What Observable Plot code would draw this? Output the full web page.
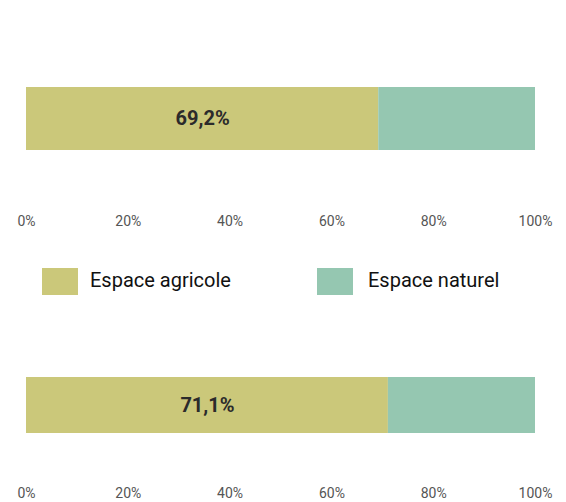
<!DOCTYPE html>
<html>
<head>
<meta charset="utf-8">
<script src="https://cdn.jsdelivr.net/npm/d3@7"></script>
<script src="https://cdn.jsdelivr.net/npm/@observablehq/plot@0.6"></script>
<style>
  html, body { margin: 0; padding: 0; background: #fff; }
  #wrap { width: 566px; font-family: Roboto, sans-serif; }
  .legend { position: relative; height: 70px; }
  .sw { position: absolute; top: 23px; width: 36px; height: 27px; }
  .lab { position: absolute; top: 22px; line-height: 27px; font-size: 20px; color: #111; }
</style>
</head>
<body>
<div id="wrap"></div>
<script>
const categories = ["Espace agricole", "Espace naturel"];
const colors = ["#cbc87a", "#95c7b1"];
const panels = ["haut", "bas"];
const agricole = [69.2, 71.1];
const naturel = [30.8, 28.9];
const ticks = [0, 20, 40, 60, 80, 100];

const fmt = v => String(v).replace(".", ",") + "%";

function panel(i, opts) {
  const data = [
    {cat: categories[0], value: agricole[i], panel: panels[i]},
    {cat: categories[1], value: naturel[i], panel: panels[i]}
  ];
  return Plot.plot({
    width: 566,
    height: opts.height,
    marginLeft: 26,
    marginRight: 31,
    marginTop: opts.marginTop,
    marginBottom: opts.marginBottom,
    style: {fontFamily: "Roboto, sans-serif", background: "#fff"},
    x: {domain: [0, 100]},
    y: {domain: [panels[i]], padding: 0, axis: null},
    color: {domain: categories, range: colors},
    marks: [
      Plot.barX(data, Plot.stackX({x: "value", y: "panel", fill: "cat"})),
      Plot.text(data, Plot.stackX({
        x: "value", y: "panel", z: "cat",
        text: d => d.cat === categories[0] ? fmt(d.value) : "",
        fontSize: 20, fontWeight: "bold", fill: "#2b2b2b"
      })),
      Plot.axisX({ticks: ticks, tickFormat: d => d + "%", tickSize: 0, tickPadding: opts.tickPadding,
        fontSize: 14, color: "#555", anchor: "bottom", label: null})
    ]
  });
}

const wrap = document.getElementById("wrap");
wrap.appendChild(panel(0, {height: 245, marginTop: 87, marginBottom: 95, tickPadding: 66}));

const leg = document.createElement("div");
leg.className = "legend";
const swX = [42, 317], labX = [90, 368];
categories.forEach((c, k) => {
  const s = document.createElement("div");
  s.className = "sw"; s.style.left = swX[k] + "px"; s.style.background = colors[k];
  const t = document.createElement("div");
  t.className = "lab"; t.style.left = labX[k] + "px"; t.textContent = c;
  leg.appendChild(s); leg.appendChild(t);
});
wrap.appendChild(leg);

wrap.appendChild(panel(1, {height: 187, marginTop: 62, marginBottom: 69, tickPadding: 55}));
</script>
</body>
</html>
